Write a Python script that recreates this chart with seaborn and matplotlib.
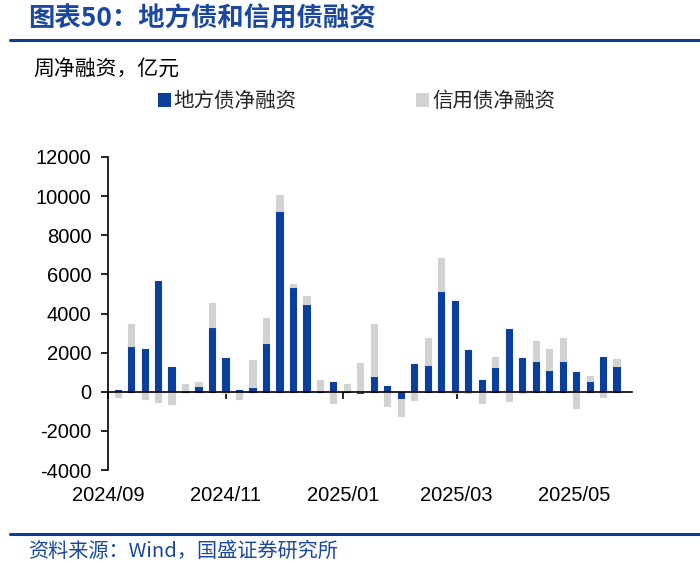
import numpy as np
import pandas as pd
import matplotlib
matplotlib.use('Agg')
import matplotlib.pyplot as plt
import matplotlib.dates as mdates
from matplotlib.lines import Line2D
from matplotlib.patches import Patch
import seaborn as sns

# weekly net financing, 100 million yuan
weeks = ['2024-09-06', '2024-09-13', '2024-09-20', '2024-09-27',
         '2024-10-04', '2024-10-11', '2024-10-18', '2024-10-25',
         '2024-11-01', '2024-11-08', '2024-11-15', '2024-11-22', '2024-11-29',
         '2024-12-06', '2024-12-13', '2024-12-20', '2024-12-27',
         '2025-01-03', '2025-01-10', '2025-01-17', '2025-01-24', '2025-01-31',
         '2025-02-07', '2025-02-14', '2025-02-21', '2025-02-28',
         '2025-03-07', '2025-03-14', '2025-03-21', '2025-03-28',
         '2025-04-04', '2025-04-11', '2025-04-18', '2025-04-25',
         '2025-05-02', '2025-05-09', '2025-05-16', '2025-05-23']
local_bond = [100, 2350, 2200, 5650, 1250, 50, 300, 3300,
              1750, 80, 250, 2500, 9250,
              5350, 4500, 30, 500,
              20, -50, 800, 300, -350,
              1400, 1350, 5150, 4650,
              2150, 600, 1250, 3200,
              1750, 1550, 1100, 1550,
              1000, 550, 1800, 1300]
credit_bond = [-250, 1100, -350, -500, -650, 350, 200, 1250,
               -50, -350, 1350, 1250, 800,
               150, 400, 550, -600,
               400, 1450, 2650, -750, -900,
               -400, 1400, 1700, -50,
               -50, -550, 550, -450,
               -50, 1050, 1100, 1200,
               -850, 280, -250, 380]

tick_dates = ['2024-09-01', '2024-11-01', '2025-01-01', '2025-03-01', '2025-05-01']
tick_labels = ['2024/09', '2024/11', '2025/01', '2025/03', '2025/05']
y_ticks = [-4000, -2000, 0, 2000, 4000, 6000, 8000, 10000, 12000]

BLUE = '#0A3F9C'
GREY = '#D2D2D2'
LINE = '#0B3C96'
TITLE = '#1A48A0'

sns.set_theme(style='white')
plt.rcParams['font.family'] = ['Liberation Sans', 'Noto Sans CJK SC']
plt.rcParams['axes.unicode_minus'] = False
CJK = ['Noto Sans CJK SC', 'DejaVu Sans']

x = mdates.date2num(pd.to_datetime(weeks))
blue = np.array(local_bond, dtype=float)
grey = np.array(credit_bond, dtype=float)
grey_base = np.where(grey >= 0, np.clip(blue, 0, None), np.clip(blue, None, 0))

fig = plt.figure(figsize=(7, 5.64), dpi=100)
fig.patch.set_facecolor('white')
ax = fig.add_axes([108 / 700, 1 - 470 / 564, 524 / 700, 313 / 564])

sns.barplot(x=x, y=blue, native_scale=True, width=0.46, color=BLUE, edgecolor=BLUE,
            saturation=1, errorbar=None, linewidth=0.8, joinstyle='round', ax=ax)
sns.barplot(x=x, y=grey, native_scale=True, width=0.46, color=GREY, edgecolor=GREY,
            saturation=1, errorbar=None, linewidth=0.8, joinstyle='round',
            bottom=grey_base, ax=ax)

ax.set_xlim(mdates.date2num(pd.Timestamp('2024-09-01')),
            mdates.date2num(pd.Timestamp('2025-05-31')))
ax.set_ylim(-4000, 12000)
ax.set_yticks(y_ticks)
ax.set_yticklabels([str(v) for v in y_ticks])
ax.set_xlabel('')
ax.set_ylabel('')

ax.spines[['top', 'right']].set_visible(False)
ax.spines['bottom'].set_position(('data', 0))
for s in ['left', 'bottom']:
    ax.spines[s].set_color('black')
    ax.spines[s].set_linewidth(1.2)

tick_x = mdates.date2num(pd.to_datetime(tick_dates))
ax.set_xticks(tick_x)
ax.set_xticklabels([])
ax.tick_params(axis='x', bottom=True, direction='out', length=5, width=1.2, color='black')
ax.tick_params(axis='y', left=True, direction='out', length=5, width=1.2, color='black',
               labelsize=14.5, labelcolor='black', pad=7)
for tx, lab in zip(tick_x, tick_labels):
    ax.text(tx, -0.05, lab, transform=ax.get_xaxis_transform(), ha='center', va='top',
            fontsize=14.5, color='black')

# header, unit, legend, source
fig.text(28 / 700, 1 - 19 / 564, '图表50：地方债和信用债融资', fontsize=19, fontweight='bold',
         color=TITLE, family=CJK, va='center', ha='left')
fig.add_artist(Line2D([10 / 700, 1], [1 - 40 / 564] * 2, color=LINE, lw=2.2))
fig.add_artist(Line2D([10 / 700, 1], [1 - 534 / 564] * 2, color=LINE, lw=2.2))
fig.text(33 / 700, 1 - 70 / 564, '周净融资，亿元', fontsize=15, family=CJK,
         color='black', va='center', ha='left')
fig.text(28 / 700, 1 - 551 / 564, '资料来源：Wind，国盛证券研究所', fontsize=14.5,
         family=CJK, color=TITLE, va='center', ha='left', style='italic')

handles = [Patch(facecolor=BLUE, edgecolor='none'), Patch(facecolor=GREY, edgecolor='none')]
fig.legend(handles, ['地方债净融资', '信用债净融资'], loc='center left',
           bbox_to_anchor=(158 / 700, 1 - 101 / 564), ncol=2, frameon=False,
           prop={'family': CJK, 'size': 14.8}, handlelength=0.65, handleheight=0.65,
           handletextpad=0.12, columnspacing=5.8, borderpad=0, borderaxespad=0)

fig.savefig('out.png', dpi=100, facecolor='white')
